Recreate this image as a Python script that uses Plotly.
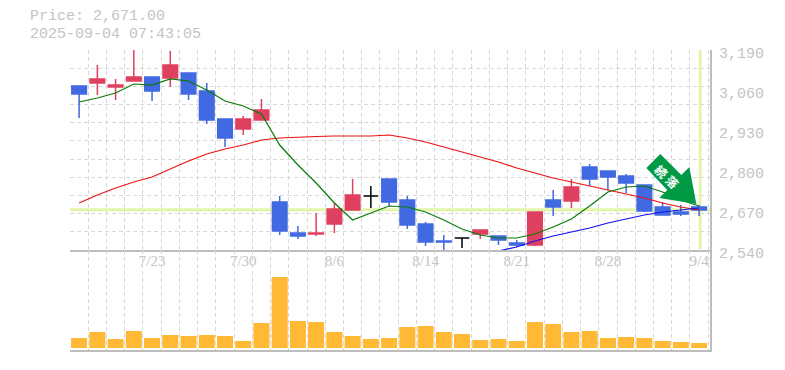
import plotly.graph_objects as go
from plotly.subplots import make_subplots

dates = ["7/16","7/17","7/18","7/22","7/23","7/24","7/25","7/28","7/29","7/30","7/31","8/1","8/4","8/5","8/6","8/7","8/8","8/12","8/13","8/14","8/15","8/18","8/19","8/20","8/21","8/22","8/25","8/26","8/27","8/28","8/29","9/1","9/2","9/3","9/4"]

def P(y):
    return round(2540 + (250 - y) * 3.25, 1)

open_px  = [86,83,87,81,77,78,73,91,119,129,120,202,233,234,224,210,196,179,200,224,241,238,234,236,243,245,200,201,167,171,176,185,207,212,207]
close_px = [94,79,85,77,91,65,94,120,138,119,110,231,236,233,209,195,196,202,225,242,242,238,230,240,245,212,207,187,179,177,183,211,215,214,210]
high_px  = [86,65,79,40,77,51,73,83,119,116,99,196,226,213,203,179,186,179,196,222,235,238,230,236,240,212,190,179,164,171,174,185,202,205,205]
low_px   = [118,95,100,81,101,87,100,124,147,135,120,235,239,236,233,210,208,206,229,246,251,248,239,245,247,246,216,208,186,190,193,212,215,216,216]

opens, closes, highs, lows = map(lambda a: [P(v) for v in a], (open_px, close_px, high_px, low_px))

ma_short = [P(v) for v in [102,98,93,84,85,79,81,90,101,106,114,145,165,183,203,220,213,206,207,212,220,229,235,238,238,234,227,219,206,192,187,186,192,200,206]]
ma_mid = [P(v) for v in [203,195,188,182,177,169,161,154,149,145,140,138,137,136.5,136,136,136,135,138,142,147,152,157,162,168,173,178,182,186,190,194,198,203,207,210]]
ma_long_idx = list(range(23, 35))
ma_long = [P(v) for v in [251,247,241,236,232,228,223,219,215,212,210,208]]

volume = [10,16,9,17,10,13,12,13,12,7,25,71,27,26,16,12,9,10,21,22,16,14,8,9,7,26,24,16,17,10,11,10,7,6,5]
volume = [v * 1000 for v in volume]

label_idx = [4, 9, 14, 19, 24, 29, 34]
price_ticks = [2540, 2670, 2800, 2930, 3060, 3190]
last_price = 2671
signal_idx = 34
signal_price = P(204)

BLUE = "#4169e1"
RED = "#e04060"
GREY = "#bdbdbd"
GRID = "#d8d8d8"
TXT = "#c4c4c4"
MONO = "Liberation Mono"
NARROW = "Liberation Sans Narrow"

x = list(range(len(dates)))
fig = make_subplots(rows=2, cols=1, shared_xaxes=False, vertical_spacing=0, row_heights=[2/3, 1/3])

def group(kind):
    sel = []
    for i in x:
        if kind == "black":
            sel.append(opens[i] == closes[i])
        elif kind == "up":
            sel.append(closes[i] > opens[i])
        else:
            sel.append(closes[i] < opens[i])
    return [i for i, s in enumerate(sel) if s]

for kind, col in (("down", BLUE), ("up", RED), ("black", "#000000")):
    ii = group(kind)
    fig.add_trace(go.Candlestick(
        x=ii, open=[opens[i] for i in ii], high=[highs[i] for i in ii],
        low=[lows[i] for i in ii], close=[closes[i] for i in ii],
        increasing=dict(line=dict(color=col, width=1.5), fillcolor=col),
        decreasing=dict(line=dict(color=col, width=1.5), fillcolor=col),
        showlegend=False, hoverinfo="skip"), row=1, col=1)

fig.add_trace(go.Scatter(x=x, y=ma_mid, mode="lines", line=dict(color="#ee1111", width=1.2), cliponaxis=False, showlegend=False), row=1, col=1)
fig.add_trace(go.Scatter(x=x, y=ma_short, mode="lines", line=dict(color="#0a7a0a", width=1.2), cliponaxis=False, showlegend=False), row=1, col=1)
fig.add_trace(go.Scatter(x=ma_long_idx, y=ma_long, mode="lines", line=dict(color="#1010ee", width=1.2), cliponaxis=False, showlegend=False), row=1, col=1)

fig.add_trace(go.Bar(x=x, y=volume, marker=dict(color="#ffb935", line=dict(width=0)), showlegend=False), row=2, col=1)

xr = [-0.5, 34.6]
minor_x = dict(tick0=-0.5, dtick=1, showgrid=True, gridcolor=GRID, griddash="4px,3px", gridwidth=1, ticks="")
fig.update_xaxes(range=xr, tickmode="array", tickvals=label_idx, ticktext=[dates[i] for i in label_idx],
                 showgrid=False, minor=minor_x, zeroline=False, rangeslider_visible=False,
                 showline=True, linecolor=GREY, linewidth=2, ticks="", ticklabelstandoff=-4,
                 tickfont=dict(family=NARROW, size=15, color=TXT), row=1, col=1)
fig.update_xaxes(range=xr, showticklabels=False, showgrid=False, minor=minor_x, zeroline=False,
                 showline=True, linecolor=GREY, linewidth=2, ticks="", row=2, col=1)
fig.update_yaxes(range=[2540, 3190], side="right", tickmode="array", tickvals=price_ticks,
                 ticktext=[f"{v:,}" for v in price_ticks], showgrid=False,
                 minor=dict(tick0=2540, dtick=650/11, showgrid=True, gridcolor=GRID, griddash="4px,3px", gridwidth=1, ticks=""),
                 zeroline=False, showline=True, linecolor=GREY, linewidth=2, ticks="", ticklabelstandoff=4,
                 ticklabelshift=3,
                 tickfont=dict(family=MONO, size=15, color=TXT), row=1, col=1)
fig.update_yaxes(range=[-2000, 98000], side="right", showticklabels=False, showgrid=False, zeroline=False,
                 showline=True, linecolor=GREY, linewidth=2, ticks="", row=2, col=1)

# last price guide lines
fig.add_shape(type="line", xref="x", yref="y", x0=-0.5, x1=34.6, y0=last_price, y1=last_price,
              line=dict(color="#e3f5a8", width=3), layer="below")
fig.add_shape(type="line", xref="x", yref="y", x0=signal_idx + 0.06, x1=signal_idx + 0.06, y0=2543, y1=3190,
              line=dict(color="#e3f5a8", width=3), layer="below")

# signal arrow, drawn in pixel offsets from the anchor point
pts = [(-36,-50), (-50,-36), (-29,-14), (-37,-6), (0,0), (-7,-37), (-15,-29)]
path = "M " + " L ".join(f"{a} {-b}" for a, b in pts) + " Z"
fig.add_shape(type="path", xref="x", yref="y", xsizemode="pixel", ysizemode="pixel",
              xanchor=signal_idx - 0.15, yanchor=signal_price, path=path,
              fillcolor="#009944", line=dict(width=0), layer="above")
for ch, dx, dy in (("続", -34, -33), ("落", -23.5, -23)):
    fig.add_annotation(x=signal_idx - 0.15, y=signal_price, xref="x", yref="y", text=f"<b>{ch}</b>", showarrow=False,
                       xshift=dx, yshift=-dy, textangle=45,
                       font=dict(family="Noto Sans CJK JP", size=12, color="#ffffff"))

for txt, yy in (("Price: 2,671.00", 17), ("2025-09-04 07:43:05", 34)):
    fig.add_annotation(xref="paper", yref="paper", x=-42/640, y=(350 - yy)/300, xanchor="left", yanchor="middle",
                       text=txt, showarrow=False, font=dict(family=MONO, size=15, color=TXT))

fig.update_layout(width=785, height=370, margin=dict(l=62, r=83, t=42, b=28, autoexpand=False),
                  paper_bgcolor="white", plot_bgcolor="white", boxgap=0.2, boxgroupgap=0, bargap=0.12, boxmode="overlay",
                  showlegend=False, xaxis_rangeslider_visible=False)
fig.write_html("out.html")
